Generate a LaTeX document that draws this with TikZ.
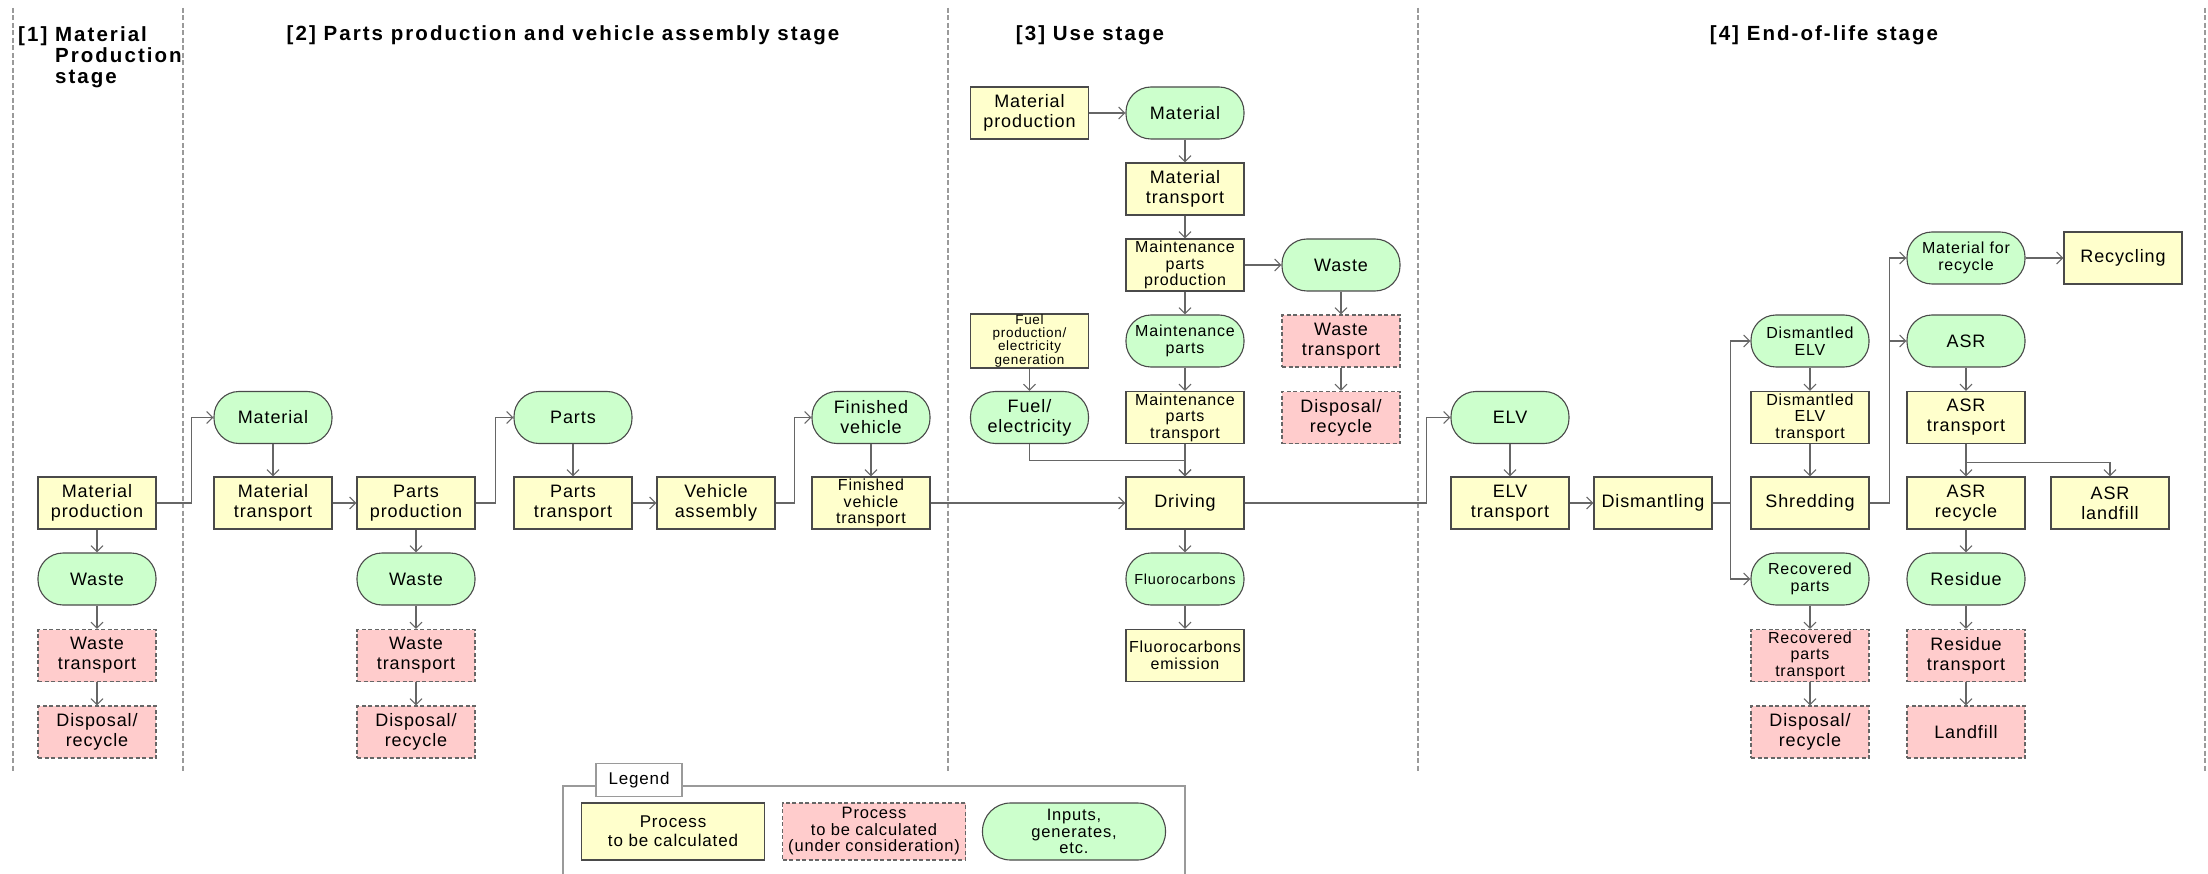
\documentclass[tikz,border=0pt]{standalone}
\usepackage{fontspec}
\setmainfont{Liberation Sans}[LetterSpace=5]
\newfontfamily\headfont{Liberation Sans}[LetterSpace=10]
\usetikzlibrary{arrows.meta}
\definecolor{procfill}{HTML}{FFFFCC}
\definecolor{pendfill}{HTML}{FFCCCC}
\definecolor{inpfill}{HTML}{CCFFCC}
\definecolor{edge}{HTML}{4A4A4A}
\definecolor{wire}{HTML}{666666}
\definecolor{sep}{HTML}{9A9A9A}
\tikzset{
  base/.style={minimum width=118pt, minimum height=52pt, inner sep=1pt, align=center,
    font=\fontsize{18}{20}\selectfont, line width=1.3pt},
  proc/.style={base, rectangle, fill=procfill, draw=edge},
  pend/.style={base, rectangle, fill=pendfill, draw=wire, dashed, dash pattern=on 4pt off 2.5pt, line width=1.1pt},
  inp/.style={base, rectangle, rounded corners=25pt, fill=inpfill, draw=edge, line width=1.1pt},
  three/.style={font=\fontsize{16}{16.5}\selectfont},
  small/.style={font=\fontsize{16}{17}\selectfont},
  arr/.style={draw=wire, line width=1.1pt, -{Straight Barb[length=6pt,width=12pt]}},
  stage/.style={draw=sep, line width=2.2pt, dash pattern=on 5pt off 2.5pt},
  ttl/.style={font=\fontsize{20.5}{21}\selectfont\headfont\bfseries, inner sep=0pt}
}
\begin{document}
\begin{tikzpicture}[x=1pt,y=-1pt]
\useasboundingbox[fill=white] (0,0) rectangle (2208,874);

% stage separators
\foreach \sx in {13,183,948,1418,2205}
  \draw[stage] (\sx,8) -- (\sx,772);

% stage titles
\node[ttl, anchor=north west, align=left] (t1) at (18,26)
  {[1]\ \begin{tabular}[t]{@{}l@{}}Material\\Production\\stage\end{tabular}};
\node[ttl] (t2) at (563,35) {[2] Parts production and vehicle assembly stage};
\node[ttl] (t3) at (1090,35) {[3] Use stage};
\node[ttl] (t4) at (1824,35) {[4] End-of-life stage};

% [1] material production
\node[proc] (mp1) at (97,503) {Material\\production};
\node[inp]  (waste1) at (97,579) {Waste};
\node[pend] (wt1) at (97,655.5) {Waste\\transport};
\node[pend] (dr1) at (97,732) {Disposal/\\recycle};

% [2] parts production and vehicle assembly
\node[inp]  (mat2) at (273,417.5) {Material};
\node[proc] (mt2) at (273,503) {Material\\transport};
\node[proc] (pp) at (416,503) {Parts\\production};
\node[inp]  (waste2) at (416,579) {Waste};
\node[pend] (wt2) at (416,655.5) {Waste\\transport};
\node[pend] (dr2) at (416,732) {Disposal/\\recycle};
\node[inp]  (parts) at (573,417.5) {Parts};
\node[proc] (ptr) at (573,503) {Parts\\transport};
\node[proc] (va) at (716,503) {Vehicle\\assembly};
\node[inp]  (fv) at (871,417.5) {Finished\\vehicle};
\node[proc, three] (fvt) at (871,503) {Finished\\vehicle\\transport};

% [3] use
\node[proc] (ump) at (1029.5,113) {Material\\production};
\node[inp]  (umat) at (1185,113) {Material};
\node[proc] (umt) at (1185,189) {Material\\transport};
\node[proc, three] (mpp) at (1185,265) {Maintenance\\parts\\production};
\node[inp]  (uwaste) at (1341,265) {Waste};
\node[pend] (uwt) at (1341,341) {Waste\\transport};
\node[pend] (udr) at (1341,417.5) {Disposal/\\recycle};
\node[proc, font=\fontsize{13.5}{12.5}\selectfont] (fpe) at (1029.5,341)
  {Fuel\\production/\\electricity\\generation};
\node[inp, small] (mparts) at (1185,341) {Maintenance\\parts};
\node[inp]  (fuel) at (1029.5,417.5) {Fuel/\\electricity};
\node[proc, three] (mpt) at (1185,417.5) {Maintenance\\parts\\transport};
\node[proc] (drive) at (1185,503) {Driving};
\node[inp, font=\fontsize{14.5}{15}\selectfont] (fluoro) at (1185,579) {Fluorocarbons};
\node[proc, small] (femi) at (1185,655.5) {Fluorocarbons\\emission};

% [4] end of life
\node[inp]  (elv) at (1510,417.5) {ELV};
\node[proc] (elvt) at (1510,503) {ELV\\transport};
\node[proc] (dism) at (1653,503) {Dismantling};
\node[inp, small] (delv) at (1810,341) {Dismantled\\ELV};
\node[proc, three] (delvt) at (1810,417.5) {Dismantled\\ELV\\transport};
\node[proc] (shred) at (1810,503) {Shredding};
\node[inp, small] (rparts) at (1810,579) {Recovered\\parts};
\node[pend, three] (rpt) at (1810,655.5) {Recovered\\parts\\transport};
\node[pend] (dr3) at (1810,732) {Disposal/\\recycle};
\node[inp, small] (mfr) at (1966,258) {Material for\\recycle};
\node[proc] (recyc) at (2123,258) {Recycling};
\node[inp]  (asr) at (1966,341) {ASR};
\node[proc] (asrt) at (1966,417.5) {ASR\\transport};
\node[proc] (asrr) at (1966,503) {ASR\\recycle};
\node[proc] (asrl) at (2110,503) {ASR\\landfill};
\node[inp]  (resid) at (1966,579) {Residue};
\node[pend] (rest) at (1966,655.5) {Residue\\transport};
\node[pend] (landf) at (1966,732) {Landfill};

% connectors: [1]
\draw[arr] (mp1.east) -- ++(35,0) |- (mat2.west);
\draw[arr] (mp1) -- (waste1);
\draw[arr] (waste1) -- (wt1);
\draw[arr] (wt1) -- (dr1);

% connectors: [2]
\draw[arr] (mat2) -- (mt2);
\draw[arr] (mt2) -- (pp);
\draw[arr] (pp) -- (waste2);
\draw[arr] (waste2) -- (wt2);
\draw[arr] (wt2) -- (dr2);
\draw[arr] (pp.east) -- ++(19.5,0) |- (parts.west);
\draw[arr] (parts) -- (ptr);
\draw[arr] (ptr) -- (va);
\draw[arr] (va.east) -- ++(19,0) |- (fv.west);
\draw[arr] (fv) -- (fvt);
\draw[arr] (fvt) -- (drive);

% connectors: [3]
\draw[arr] (ump) -- (umat);
\draw[arr] (umat) -- (umt);
\draw[arr] (umt) -- (mpp);
\draw[arr] (mpp) -- (uwaste);
\draw[arr] (uwaste) -- (uwt);
\draw[arr] (uwt) -- (udr);
\draw[arr] (mpp) -- (mparts);
\draw[arr] (mparts) -- (mpt);
\draw[arr] (mpt) -- (drive);
\draw[arr] (fpe) -- (fuel);
\draw[arr] (fuel.south) -- ++(0,16) -| (drive.north);
\draw[arr] (drive) -- (fluoro);
\draw[arr] (fluoro) -- (femi);
\draw[arr] (drive.east) -- ++(181.5,0) |- (elv.west);

% connectors: [4]
\draw[arr] (elv) -- (elvt);
\draw[arr] (elvt) -- (dism);
\draw[arr] (dism.east) -- ++(18,0) |- (delv.west);
\draw[arr] (dism.east) -- ++(18,0) |- (rparts.west);
\draw[arr] (delv) -- (delvt);
\draw[arr] (delvt) -- (shred);
\draw[arr] (rparts) -- (rpt);
\draw[arr] (rpt) -- (dr3);
\draw[arr] (shred.east) -- ++(20,0) |- (mfr.west);
\draw[arr] (shred.east) -- ++(20,0) |- (asr.west);
\draw[arr] (mfr) -- (recyc);
\draw[arr] (asr) -- (asrt);
\draw[arr] (asrt) -- (asrr);
\draw[arr] (asrt.south) -- ++(0,18) -| (asrl.north);
\draw[arr] (asrr) -- (resid);
\draw[arr] (resid) -- (rest);
\draw[arr] (rest) -- (landf);

% legend
\draw[draw=sep, line width=1.3pt] (563,880) -- (563,786) -- (1185,786) -- (1185,880);
\node[draw=sep, fill=white, line width=1.3pt, minimum width=86pt, minimum height=33pt,
  font=\fontsize{17}{19}\selectfont, inner sep=1pt] (leg) at (639,780) {Legend};
\node[proc, minimum width=183pt, minimum height=57pt, font=\fontsize{17}{19}\selectfont] (lp) at (673,831.5)
  {Process\\to be calculated};
\node[pend, minimum width=183pt, minimum height=57pt, font=\fontsize{16.5}{16.5}\selectfont] (lq) at (874,831.5)
  {Process\\to be calculated\\(under consideration)};
\node[inp, minimum width=183pt, minimum height=57pt, rounded corners=28pt, font=\fontsize{16.5}{16.5}\selectfont] (li) at (1074,831.5)
  {Inputs,\\generates,\\etc.};
\end{tikzpicture}
\end{document}
